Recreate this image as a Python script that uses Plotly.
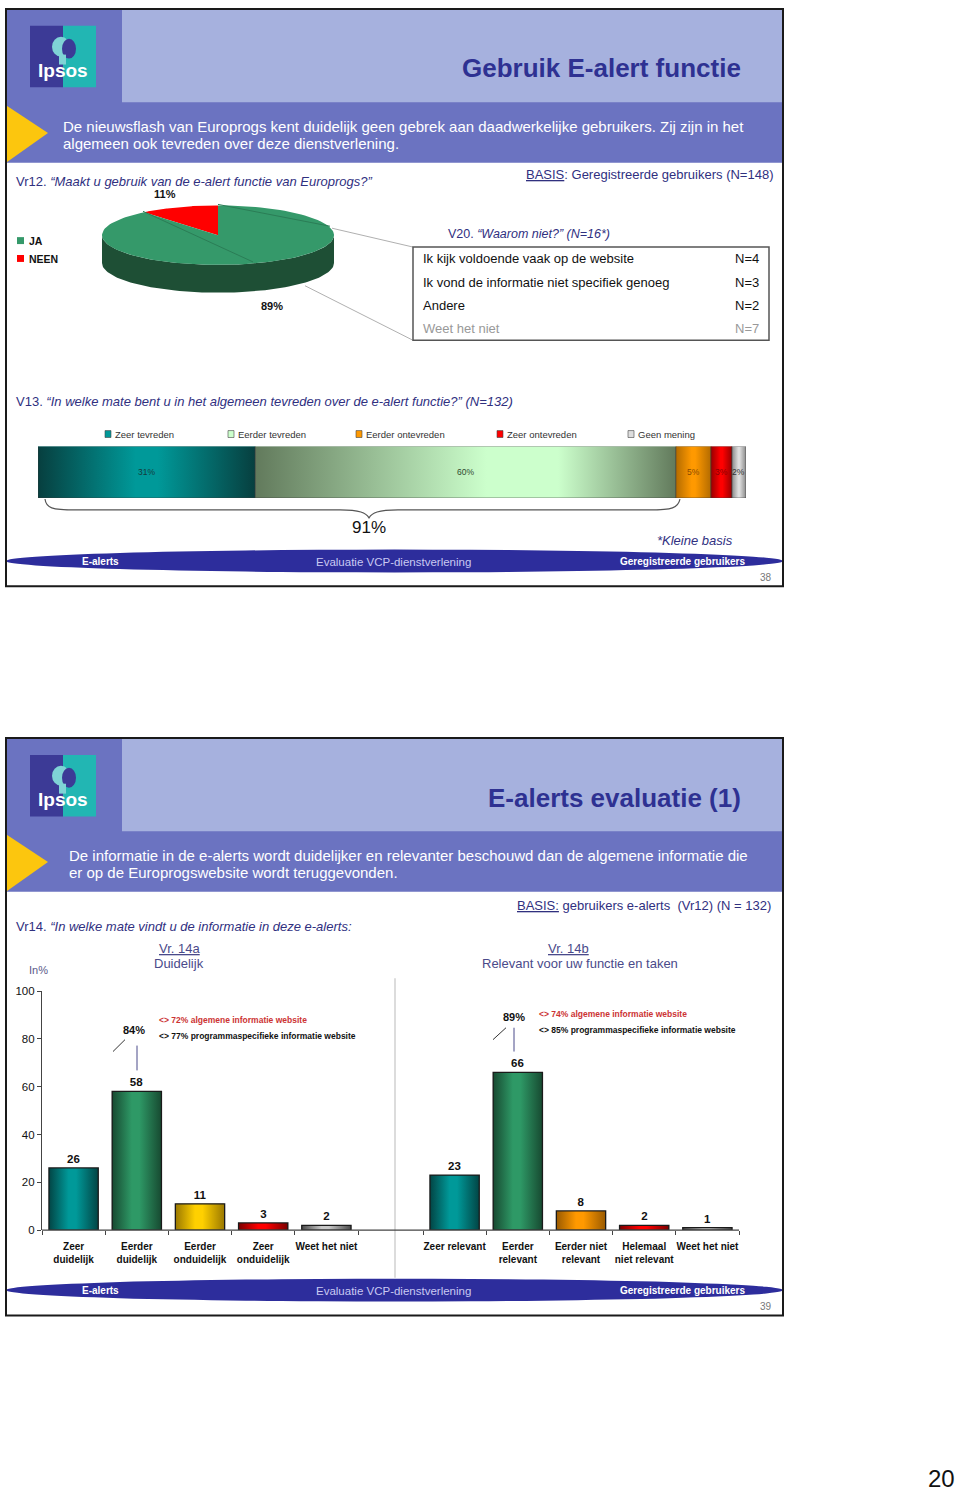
import numpy as np
import plotly.graph_objects as go

W, H = 960, 1496
def px(x): return x / W
def py(y): return 1 - y / H

FONT = "Liberation Sans, Arial, sans-serif"
FONTW = "Liberation Sans, Arial, sans-serif"

# ---------------- data ----------------
pie_labels = ["JA", "NEEN"]
pie_values = [89, 11]
pie_top_colors = ["#35996a", "#ff0000"]
pie_side_colors = ["#1e4f35", "#990000"]

why_items = ["Ik kijk voldoende vaak op de website",
             "Ik vond de informatie niet specifiek genoeg",
             "Andere", "Weet het niet"]
why_n = [4, 3, 2, 7]

sat_labels = ["Zeer tevreden", "Eerder tevreden", "Eerder ontevreden", "Zeer ontevreden", "Geen mening"]
sat_values = [31, 60, 5, 3, 2]
sat_mid = ["#009999", "#ccffcc", "#ff9900", "#ff0000", "#dddddd"]
sat_edge = ["#073f3f", "#627a5c", "#b36b00", "#990000", "#8a8a8a"]
sat_text = ["#143c3c", "#2f4a2f", "#8a4a00", "#880000", "#333333"]
sat_total = 91

clear_labels = ["Zeer<br>duidelijk", "Eerder<br>duidelijk", "Eerder<br>onduidelijk", "Zeer<br>onduidelijk", "Weet het niet"]
clear_values = [26, 58, 11, 3, 2]
clear_mid = ["#009999", "#2e9966", "#ffd000", "#ff0000", "#c8c8c8"]
clear_edge = ["#024545", "#174a31", "#9a7800", "#7a0000", "#4a4a4a"]

rel_labels = ["Zeer relevant", "Eerder<br>relevant", "Eerder niet<br>relevant", "Helemaal<br>niet relevant", "Weet het niet"]
rel_values = [23, 66, 8, 2, 1]
rel_mid = ["#009999", "#2e9966", "#ff9900", "#ff0000", "#c8c8c8"]
rel_edge = ["#024545", "#174a31", "#9a5a00", "#7a0000", "#4a4a4a"]

y_ticks = [0, 20, 40, 60, 80, 100]

fig = go.Figure()
shapes = []
anns = []

def rect(x0, y0, x1, y1, fill=None, line=None, lw=0, layer="below"):
    shapes.append(dict(type="rect", xref="paper", yref="paper",
                       x0=px(x0), x1=px(x1), y0=py(y1), y1=py(y0),
                       fillcolor=fill if fill else "rgba(0,0,0,0)",
                       line=dict(color=line if line else "rgba(0,0,0,0)", width=lw),
                       layer=layer))

def seg(x0, y0, x1, y1, color="#888", w=1, layer="above"):
    shapes.append(dict(type="line", xref="paper", yref="paper",
                       x0=px(x0), x1=px(x1), y0=py(y0), y1=py(y1),
                       line=dict(color=color, width=w), layer=layer))

def path(pts, fill, line=None, lw=0, layer="below"):
    d = "M " + " L ".join(f"{px(a):.5f},{py(b):.5f}" for a, b in pts) + " Z"
    shapes.append(dict(type="path", xref="paper", yref="paper", path=d,
                       fillcolor=fill, line=dict(color=line if line else "rgba(0,0,0,0)", width=lw),
                       layer=layer))

def ann(x, y, text, size=12, color="#000", xanchor="left", yanchor="middle", family=FONT):
    anns.append(dict(x=px(x), y=py(y), xref="paper", yref="paper", text=text,
                     showarrow=False, xanchor=xanchor, yanchor=yanchor,
                     font=dict(size=size, color=color, family=family)))

PURPLE = "#6b73c1"
LIGHT = "#a6b1de"
TITLE = "#2e3192"
QCOL = "#30307f"
YELLOW = "#fcc60e"

def slide_frame(top, bottom, title, sub1, sub2, page, subx):
    rect(6, top, 783, top + 155, fill=PURPLE)
    rect(122, top, 783, top + 94, fill=LIGHT)
    path([(6, top + 97), (48, top + 125), (6, top + 155)], fill=YELLOW)
    # logo
    rect(30, top + 17, 63, top + 79, fill="#3c3a96")
    rect(63, top + 17, 96, top + 79, fill="#22b6b3")
    shapes.append(dict(type="circle", xref="paper", yref="paper",
                       x0=px(52), x1=px(70), y0=py(top + 48), y1=py(top + 28),
                       fillcolor="#7fd3d6", line=dict(width=0), layer="below"))
    shapes.append(dict(type="circle", xref="paper", yref="paper",
                       x0=px(62), x1=px(76), y0=py(top + 50), y1=py(top + 30),
                       fillcolor="#3c3a96", line=dict(width=0), layer="below"))
    rect(59, top + 46, 66, top + 56, fill="#7fd3d6")
    ann(63, top + 62, "<b>Ipsos</b>", size=19, color="white", xanchor="center", family=FONTW)
    ann(743, top + 60, f"<b>{title}</b>", size=26, color=TITLE, xanchor="right")
    ann(subx, top + 118, sub1, size=15, color="white")
    ann(subx, top + 136, sub2, size=15, color="white")
    # footer
    shapes.append(dict(type="circle", xref="paper", yref="paper",
                       x0=px(6), x1=px(783), y0=py(bottom - 14), y1=py(bottom - 37),
                       fillcolor="#2d2d9c", line=dict(width=0), layer="below"))
    ann(80, bottom - 25, "<b>E-alerts</b>", size=10, color="white")
    ann(393, bottom - 25, "Evaluatie VCP-dienstverlening", size=11.5, color="#c9c9f2", xanchor="center")
    ann(747, bottom - 25, "<b>Geregistreerde gebruikers</b>", size=10, color="white", xanchor="right")
    ann(774, bottom - 9, page, size=10, color="#777", xanchor="right")
    rect(6, top, 783, bottom, line="#1a1a1a", lw=2, layer="above")

slide_frame(3, 585, "Gebruik E-alert functie",
            "De nieuwsflash van Europrogs kent duidelijk geen gebrek aan daadwerkelijke gebruikers. Zij zijn in het",
            "algemeen ook tevreden over deze dienstverlening.", "38", 61)
slide_frame(738, 1320, "E-alerts evaluatie (1)",
            "De informatie in de e-alerts wordt duidelijker en relevanter beschouwd dan de algemene informatie die",
            "er op de Europrogswebsite wordt teruggevonden.", "39", 67)

# ---------------- slide 1 texts ----------------
ann(14, 177, "Vr12. <i>\u201cMaakt u gebruik van de e-alert functie van Europrogs?\u201d</i>", size=13, color=QCOL)
ann(775, 170, "<u>BASIS</u>: Geregistreerde gebruikers (N=148)", size=13, color=QCOL, xanchor="right")

# ---------------- 3D pie on pixel axis ----------------
cx, cy, rx, ry, depth = 218, 231, 116, 30, 28
tot = sum(pie_values)
start = 90.0
order = list(range(len(pie_values)))[::-1]
wedges = []
for i in order:
    sweep = pie_values[i] / tot * 360
    wedges.append((i, start, start + sweep))
    start += sweep
# sides (front half only)
for i, a0, a1 in wedges:
    for off in (0, 360):
        s0, s1 = max(a0, 180 + off), min(a1, 360 + off)
        if s1 > s0:
            th = np.radians(np.linspace(s0, s1, 80))
            xs = np.concatenate([cx + rx * np.cos(th), (cx + rx * np.cos(th))[::-1]])
            ys = np.concatenate([cy - ry * np.sin(th), (cy - ry * np.sin(th) + depth)[::-1]])
            fig.add_trace(go.Scatter(x=xs, y=ys, fill="toself", fillcolor=pie_side_colors[i],
                                     line=dict(width=0), mode="lines", hoverinfo="skip",
                                     xaxis="x", yaxis="y"))
for i, a0, a1 in wedges:
    th = np.radians(np.linspace(a0, a1, 120))
    xs = np.concatenate([[cx], cx + rx * np.cos(th), [cx]])
    ys = np.concatenate([[cy], cy - ry * np.sin(th), [cy]])
    fig.add_trace(go.Scatter(x=xs, y=ys, fill="toself", fillcolor=pie_top_colors[i],
                             line=dict(width=0), mode="lines", name=pie_labels[i],
                             hoverinfo="name", xaxis="x", yaxis="y"))
seg(218, 200, 330, 222, color="#2b7d56", w=1)
seg(143, 207, 253, 258, color="#2b7d56", w=1)
ann(165, 190, f"<b>{pie_values[1]}%</b>", size=11, color="#111", xanchor="center")
ann(272, 302, f"<b>{pie_values[0]}%</b>", size=11, color="#111", xanchor="center")
for k, (lab, col) in enumerate(zip(pie_labels, pie_top_colors)):
    yy = 237 + 18 * k
    rect(17, yy - 4, 24, yy + 3, fill=col, layer="above")
    ann(27, yy, f"<b>{lab}</b>", size=10.5, color="#111")

# leader lines and table
seg(332, 224, 413, 243, color="#b0b0b0", w=1)
seg(305, 282, 413, 337, color="#b0b0b0", w=1)
ann(446, 230, "V20. <i>\u201cWaarom niet?\u201d (N=16*)</i>", size=12.5, color=QCOL)
rect(413, 243, 769, 337, line="#555", lw=1.5, layer="above")
for k, (item, n) in enumerate(zip(why_items, why_n)):
    yy = 255 + 23.5 * k
    col = "#999" if k == len(why_items) - 1 else "#111"
    ann(421, yy, item, size=13, color=col)
    ann(733, yy, f"N={n}", size=13, color=col)

# ---------------- satisfaction stacked bar ----------------
ann(14, 399, "V13. <i>\u201cIn welke mate bent u in het algemeen tevreden over de e-alert functie?\u201d (N=132)</i>", size=13, color=QCOL)
leg_x = [105, 228, 356, 497, 628]
for lab, col, lx in zip(sat_labels, sat_mid, leg_x):
    rect(lx, 428, lx + 6, 435, fill=col, line="#444", lw=0.6, layer="above")
    ann(lx + 8, 432, lab, size=9.5, color="#333")

cum = np.concatenate([[0], np.cumsum(sat_values)])
for k, (lab, v) in enumerate(zip(sat_labels, sat_values)):
    fig.add_trace(go.Bar(x=[v], y=[0], base=[cum[k]], orientation="h", width=1,
                         marker=dict(color=sat_mid[k], line=dict(width=0)),
                         name=lab, xaxis="x2", yaxis="y2"))
for k, v in enumerate(sat_values):
    a, b = cum[k], cum[k + 1]
    fig.add_trace(go.Scatter(x=[a, b, b, a, a], y=[-0.5, -0.5, 0.5, 0.5, -0.5], fill="toself",
                             mode="lines", line=dict(color="#3a3a3a", width=0.6),
                             fillgradient=dict(type="horizontal",
                                               colorscale=[[0, sat_edge[k]], [0.55 if k == 1 else 0.45, sat_mid[k]],
                                                           [0.72 if k == 1 else 0.55, sat_mid[k]], [1, sat_edge[k]]]),
                             hoverinfo="skip", xaxis="x2", yaxis="y2"))
    anns.append(dict(x=(a + b) / 2, y=0, xref="x2", yref="y2", text=f"{v}%", showarrow=False,
                     font=dict(size=8.5, color=sat_text[k], family=FONT)))

# brace
def bz(p):
    return f"{px(p[0]):.5f},{py(p[1]):.5f}"
brace = ("M " + bz((45, 497)) + " C " + bz((46, 506)) + " " + bz((52, 508)) + " " + bz((75, 508)) +
         " L " + bz((340, 508)) + " C " + bz((360, 508)) + " " + bz((366, 511)) + " " + bz((369, 516)) +
         " C " + bz((372, 511)) + " " + bz((378, 508)) + " " + bz((398, 508)) +
         " L " + bz((650, 508)) + " C " + bz((672, 508)) + " " + bz((678, 506)) + " " + bz((680, 497)))
shapes.append(dict(type="path", xref="paper", yref="paper", path=brace,
                   line=dict(color="#555", width=1.2), layer="above"))
ann(369, 526, f"{sat_total}%", size=17, color="#111", xanchor="center")
ann(735, 539, "<i>*Kleine basis</i>", size=13, color=QCOL, xanchor="right")

# ---------------- slide 2 ----------------
ann(773, 907, "<u>BASIS:</u> gebruikers e-alerts  (Vr12) (N = 132)", size=13, color=QCOL, xanchor="right")
ann(14, 928, "Vr14. <i>\u201cIn welke mate vindt u de informatie in deze e-alerts:</i>", size=13, color=QCOL)
ann(179, 950, "<u>Vr. 14a</u>", size=13, color="#4a4a8a", xanchor="center")
ann(179, 965, "Duidelijk", size=13, color="#4a4a8a", xanchor="center")
ann(568, 950, "<u>Vr. 14b</u>", size=13, color="#4a4a8a", xanchor="center")
ann(580, 965, "Relevant voor uw functie en taken", size=13, color="#4a4a8a", xanchor="center")
ann(38, 972, "In%", size=11, color="#5a5a8a", xanchor="center")

seg(395, 980, 395, 1282, color="#dcdcdc", w=2, layer="below")

BW = 0.78
def bar_chart(vals, mids, edges, xa, ya, labels):
    idx = list(range(len(vals)))
    fig.add_trace(go.Bar(x=idx, y=vals, width=BW, marker=dict(color=mids, line=dict(width=0)),
                         texttemplate="<b>%{y}</b>", textposition="outside", cliponaxis=False,
                         textfont=dict(size=11.5, color="#111", family=FONTW),
                         xaxis=xa, yaxis=ya, hovertext=labels))
    for i, v in zip(idx, vals):
        a, b = i - BW / 2, i + BW / 2
        fig.add_trace(go.Scatter(x=[a, b, b, a, a], y=[0, 0, v, v, 0], fill="toself", mode="lines",
                                 line=dict(color="#1a1a1a", width=1.3),
                                 fillgradient=dict(type="horizontal",
                                                   colorscale=[[0, edges[i]], [0.4, mids[i]], [0.55, mids[i]], [1, edges[i]]]),
                                 hoverinfo="skip", xaxis=xa, yaxis=ya))

bar_chart(clear_values, clear_mid, clear_edge, "x4", "y4", clear_labels)
bar_chart(rel_values, rel_mid, rel_edge, "x5", "y5", rel_labels)
seg(42, 1234, 739, 1234, color="#444", w=1.2)

# percentages of top-2 categories
ann(134, 1032, f"<b>{clear_values[0] + clear_values[1]}%</b>", size=11, color="#111", xanchor="center")
seg(113, 1054, 125, 1042, color="#333", w=1)
seg(137, 1048, 137, 1073, color="#4a4a8a", w=1)
ann(514, 1019, f"<b>{rel_values[0] + rel_values[1]}%</b>", size=11, color="#111", xanchor="center")
seg(493, 1042, 506, 1030, color="#333", w=1)
seg(514, 1030, 514, 1054, color="#4a4a8a", w=1)
ann(157, 1022, "<b>&lt;&gt; 72% algemene informatie website</b>", size=8.5, color="#cc3333")
ann(157, 1038, "<b>&lt;&gt; 77% programmaspecifieke informatie website</b>", size=8.5, color="#111")
ann(537, 1016, "<b>&lt;&gt; 74% algemene informatie website</b>", size=8.5, color="#cc3333")
ann(537, 1032, "<b>&lt;&gt; 85% programmaspecifieke informatie website</b>", size=8.5, color="#111")

ann(957, 1484, "20", size=24, color="#111", xanchor="right", family=FONTW)

# ---------------- axes ----------------
hidden = dict(visible=False, fixedrange=True)
def xcat(dom, labels, anchor):
    return dict(domain=dom, range=[-0.5, 4.5], anchor=anchor, showgrid=False, zeroline=False,
                showline=False, tickmode="array", tickvals=list(range(5)),
                ticktext=[f"<b>{t}</b>" for t in labels], ticks="",
                ticklabelstandoff=9,
                tickfont=dict(size=10, color="#111", family=FONTW),
                minor=dict(tick0=-0.5, dtick=1, ticks="outside", ticklen=4, tickcolor="#444", tickwidth=1.2),
                fixedrange=True)

fig.update_layout(
    width=W, height=H, margin=dict(l=0, r=0, t=0, b=0),
    paper_bgcolor="white", plot_bgcolor="rgba(0,0,0,0)", showlegend=False,
    xaxis=dict(domain=[0, 1], range=[0, W], **hidden),
    yaxis=dict(domain=[0, 1], range=[H, 0], **hidden),
    xaxis2=dict(domain=[px(38), px(746)], range=[0, sum(sat_values)], anchor="y2", **hidden),
    yaxis2=dict(domain=[py(496), py(444)], range=[-0.5, 0.5], anchor="x2", **hidden),
    xaxis4=xcat([px(42), px(358)], clear_labels, "y4"),
    yaxis4=dict(domain=[py(1234), py(993)], range=[0, 100], anchor="x4", tickvals=y_ticks,
                ticks="outside", ticklen=4, tickcolor="#444", showline=True, linecolor="#444",
                linewidth=1.2, showgrid=False, zeroline=False,
                tickfont=dict(size=11.5, color="#111", family=FONTW), fixedrange=True),
    xaxis5=xcat([px(423), px(739)], rel_labels, "y5"),
    yaxis5=dict(domain=[py(1234), py(993)], range=[0, 100], anchor="x5", **hidden),
    bargap=0, barmode="overlay",
    shapes=shapes, annotations=anns,
)

fig.write_html("out.html")
